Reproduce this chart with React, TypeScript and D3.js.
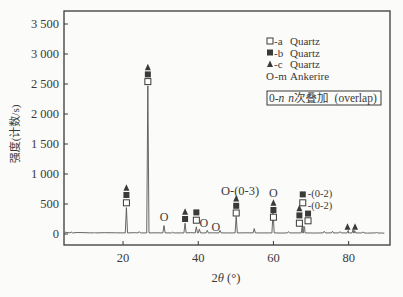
import React from "react";
import * as d3 from "d3";

// 2θ positions and intensities of the diffraction peaks
const peakPos = [6.2, 12.4, 20.9, 24.3, 26.6, 30.9, 33.2, 36.5, 39.5, 40.3, 42.4, 45.8, 50.1, 54.9, 59.9, 64.0, 67.7, 68.1, 68.3, 73.5, 75.7, 77.7, 79.9, 81.2, 81.6, 83.8, 87.4];
const peakHeight = [35, 25, 440, 40, 2470, 140, 30, 180, 120, 80, 60, 60, 290, 90, 370, 40, 150, 130, 110, 45, 45, 40, 60, 70, 55, 35, 25];

// baseline (background) readings
const baseX = [4.5, 8, 11, 15, 18, 23, 29, 34, 38, 44, 48, 53, 57, 62, 66, 71, 76, 80, 85, 89.5];
const baseY = [30, 25, 20, 22, 20, 22, 20, 18, 22, 20, 18, 20, 18, 16, 18, 16, 15, 16, 15, 14];

// phase markers: position, symbol, stacked level (intensity at marker)
const markX = [20.9, 20.9, 20.9, 26.6, 26.6, 26.6, 30.9, 36.5, 36.5, 39.5, 39.5, 41.5, 44.7, 50.1, 50.1, 50.1, 60.0, 60.0, 60.0, 60.0, 66.9, 66.9, 66.9, 69.2, 69.2, 67.8, 67.8, 79.7, 81.7];
const markType = ["a", "b", "c", "a", "b", "c", "m", "b", "c", "a", "b", "m", "m", "a", "b", "c", "a", "b", "c", "m", "a", "b", "c", "a", "b", "b", "a", "c", "c"];
const markY = [520, 650, 770, 2540, 2660, 2780, 280, 250, 370, 230, 360, 180, 120, 350, 470, 590, 280, 400, 520, 680, 180, 310, 430, 220, 340, 660, 520, 120, 120];

const yTicks = [0, 500, 1000, 1500, 2000, 2500, 3000, 3500];
const xTicks = [20, 40, 60, 80];

const legendSym = ["a", "b", "c", "m"];
const legendCode = ["-a", "-b", "-c", "-m"];
const legendName = ["Quartz", "Quartz", "Quartz", "Ankerire"];

const W = 403;
const H = 297;
const left = 64;
const right = 390;
const top = 11;
const bottom = 245;
const serif = "Liberation Serif, DejaVu Serif, serif";
const cjk = "Liberation Serif, Noto Sans CJK SC, serif";
const ink = "#3a3a3a";

function Marker({ type, cx, cy }: { type: string; cx: number; cy: number }) {
  const s = 6;
  if (type === "a")
    return <rect x={cx - s / 2} y={cy - s / 2} width={s} height={s} fill="#fff" stroke={ink} strokeWidth={1} />;
  if (type === "b") return <rect x={cx - s / 2} y={cy - s / 2} width={s} height={s} fill={ink} />;
  if (type === "c")
    return <path d={`M${cx},${cy - s / 2 - 0.5}L${cx + s / 2},${cy + s / 2}L${cx - s / 2},${cy + s / 2}Z`} fill={ink} />;
  return (
    <text x={cx} y={cy + 4} textAnchor="middle" fontSize={12} fill={ink}>
      O
    </text>
  );
}

export default function App() {
  const x = d3.scaleLinear().domain([4.3, 91]).range([left, right]);
  const y = d3.scaleLinear().domain([0, 3500]).range([234, 24]);

  const pts: [number, number][] = baseX.map((d, i) => [d, baseY[i]]);
  peakPos.forEach((p, i) => {
    pts.push([p - 0.3, 18]);
    pts.push([p, peakHeight[i]]);
    pts.push([p + 0.3, 18]);
  });
  pts.sort((a, b) => a[0] - b[0]);
  const line = d3
    .line<[number, number]>()
    .x((d) => x(d[0]))
    .y((d) => y(d[1]));

  const rowY = (i: number) => 45 + i * 11.5;

  return (
    <svg
      width={W}
      height={H}
      style={{ position: "absolute", left: 0, top: 0, background: "#fbfbf9", fontFamily: serif }}
    >
      <rect x={left} y={top} width={right - left} height={bottom - top} fill="none" stroke={ink} strokeWidth={1.3} />
      {yTicks.map((t) => (
        <g key={t}>
          <line x1={left} x2={left + 4} y1={y(t)} y2={y(t)} stroke={ink} />
          <text x={left - 5} y={y(t) + 4} textAnchor="end" fontSize={12.5} fill={ink}>
            {d3.format(",")(t).replace(",", " ")}
          </text>
        </g>
      ))}
      {xTicks.map((t) => (
        <g key={t}>
          <line x1={x(t)} x2={x(t)} y1={bottom} y2={bottom - 4} stroke={ink} />
          <text x={x(t)} y={bottom + 17} textAnchor="middle" fontSize={12.5} fill={ink}>
            {t}
          </text>
        </g>
      ))}
      <text x={226} y={282} textAnchor="middle" fontSize={12.5} fill={ink}>
        2<tspan fontStyle="italic">θ</tspan> (°)
      </text>
      <text transform="translate(19,134) rotate(-90)" textAnchor="middle" fontSize={11} style={{ fontFamily: cjk }} fill={ink}>
        强度(计数/s)
      </text>
      <path d={line(pts) || ""} fill="none" stroke="#555" strokeWidth={0.9} />
      {markX.map((m, i) => (
        <Marker key={i} type={markType[i]} cx={x(m)} cy={y(markY[i])} />
      ))}
      <text x={221} y={195} fontSize={12.5} fill={ink}>
        O-(0-3)
      </text>
      <text x={x(67.8) + 5} y={y(660) + 3} fontSize={10.5} fill={ink}>
        -(0-2)
      </text>
      <text x={x(67.8) + 5} y={y(520) + 6} fontSize={10.5} fill={ink}>
        -(0-2)
      </text>
      {legendSym.map((s, i) => (
        <g key={s}>
          {s === "m" ? (
            <text x={266} y={rowY(i)} fontSize={11} fill={ink}>
              O
            </text>
          ) : (
            <Marker type={s} cx={270} cy={rowY(i) - 4} />
          )}
          <text x={s === "m" ? 274.5 : 274} y={rowY(i)} fontSize={11} fill={ink}>
            {legendCode[i]}
          </text>
          <text x={290} y={rowY(i)} fontSize={11} fill={ink}>
            {legendName[i]}
          </text>
        </g>
      ))}
      <rect x={267} y={91} width={114} height={14} fill="none" stroke={ink} strokeWidth={1} />
      <text x={269} y={102} fontSize={11.5} style={{ fontFamily: cjk }} fill={ink}>
        0-<tspan fontStyle="italic">n</tspan>
        <tspan dx={4} fontStyle="italic">n</tspan>次叠加
        <tspan dx={6}>(overlap)</tspan>
      </text>
    </svg>
  );
}
